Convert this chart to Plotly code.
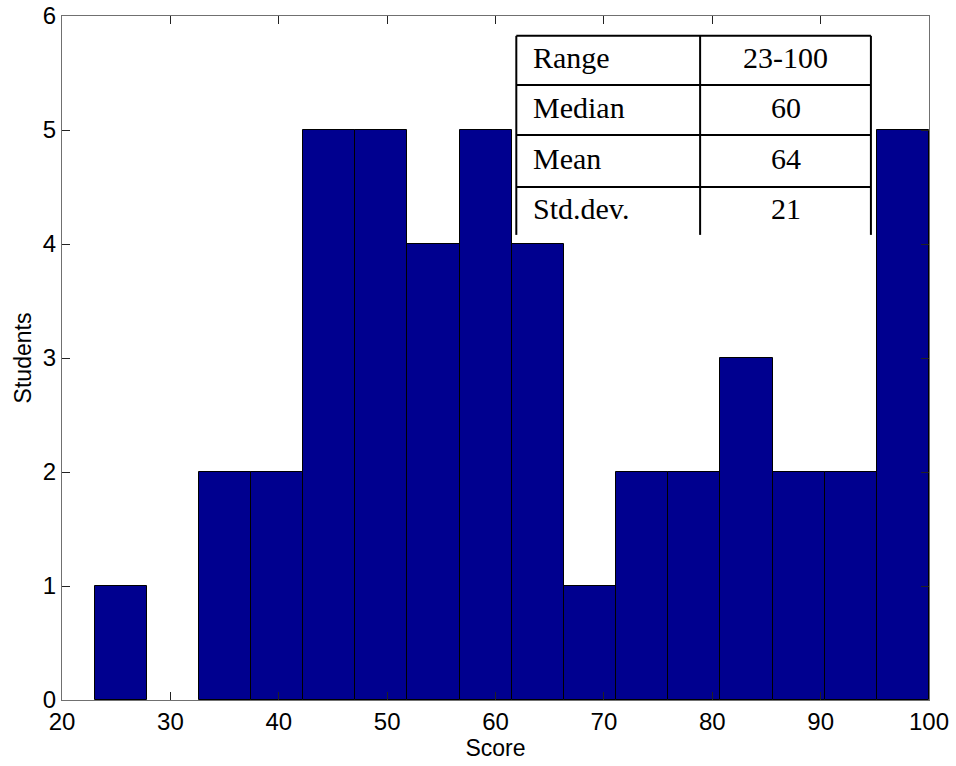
import plotly.graph_objects as go

# Histogram data
score_min = 23
score_max = 100
counts = [1, 0, 2, 2, 5, 5, 4, 5, 4, 1, 2, 2, 3, 2, 2, 5]

# Summary table
stat_names = ["Range", "Median", "Mean", "Std.dev."]
stat_values = ["23-100", "60", "64", "21"]

x_ticks = [20, 30, 40, 50, 60, 70, 80, 90, 100]
y_ticks = [0, 1, 2, 3, 4, 5, 6]

nbins = len(counts)
bw = (score_max - score_min) / nbins
centers = [score_min + bw * (i + 0.5) for i in range(nbins)]

fig = go.Figure()
fig.add_trace(go.Bar(
    x=centers, y=counts, width=[bw] * nbins,
    marker=dict(color="#00008F",
                line=dict(color="#000000", width=[1 if c > 0 else 0 for c in counts])),
    showlegend=False, hoverinfo="skip",
))

axis_font = dict(family="Liberation Sans, Arial, sans-serif", size=24, color="#000000")

fig.update_layout(
    width=956, height=766,
    margin=dict(l=62, r=27, t=16, b=66),
    paper_bgcolor="white", plot_bgcolor="white",
    bargap=0,
    xaxis=dict(
        range=[20, 100], tickvals=x_ticks, ticktext=[str(v) for v in x_ticks],
        ticks="inside", ticklen=8, tickcolor="#222222", tickwidth=1,
        showline=True, linecolor="#707070", linewidth=1, mirror="ticks",
        showgrid=False, zeroline=False, tickfont=axis_font, automargin=False,
        title=dict(text="Score", font=dict(family="Liberation Sans, Arial, sans-serif", size=23, color="#000"), standoff=6),
    ),
    yaxis=dict(
        range=[0, 6], tickvals=y_ticks, ticktext=[str(v) for v in y_ticks],
        ticks="inside", ticklen=8, tickcolor="#222222", tickwidth=1,
        showline=True, linecolor="#707070", linewidth=1, mirror="ticks",
        showgrid=False, zeroline=False, tickfont=axis_font, automargin=False,
        title=dict(text="Students", font=dict(family="Liberation Sans, Arial, sans-serif", size=23, color="#000"), standoff=4),
    ),
)

# Table geometry in paper coords
tx0, tx1, tx2 = 0.524, 0.736, 0.933
row_y = [0.971, 0.899, 0.826, 0.750, 0.680]
lw = 2
for xv in (tx0, tx1, tx2):
    fig.add_shape(type="line", xref="paper", yref="paper", x0=xv, x1=xv,
                  y0=row_y[-1], y1=row_y[0], line=dict(color="black", width=lw))
for yv in row_y[:-1]:
    fig.add_shape(type="line", xref="paper", yref="paper", x0=tx0, x1=tx2,
                  y0=yv, y1=yv, line=dict(color="black", width=lw))

tfont = dict(family="Liberation Serif, Times New Roman, serif", size=30, color="#000000")
for i, (name, val) in enumerate(zip(stat_names, stat_values)):
    yc = (row_y[i] + row_y[i + 1]) / 2 + 0.004
    fig.add_annotation(xref="paper", yref="paper", x=tx0 + 0.017, y=yc, text=name,
                       showarrow=False, xanchor="left", yanchor="middle", font=tfont)
    fig.add_annotation(xref="paper", yref="paper", x=(tx1 + tx2) / 2, y=yc, text=val,
                       showarrow=False, xanchor="center", yanchor="middle", font=tfont)

fig.write_html("out.html", config={"displayModeBar": False},
               post_script="document.body.style.margin='0px';document.body.style.overflow='hidden';")
